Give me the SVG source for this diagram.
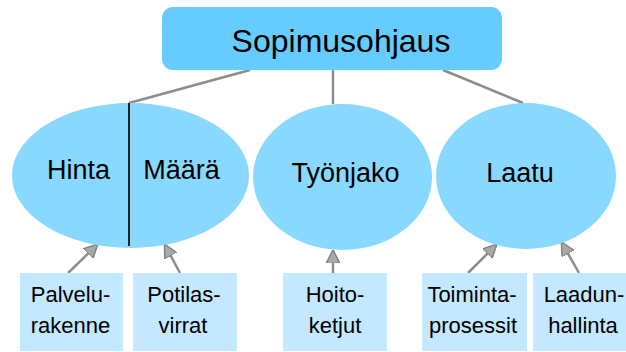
<svg xmlns="http://www.w3.org/2000/svg" width="626" height="352" viewBox="0 0 626 352">
<style>
text{font-family:"Liberation Sans",Arial,sans-serif;fill:#000;text-anchor:middle}
.ell{fill:#88D8FF}
.leaf{fill:#C4E8FF}
.con{stroke:#8C8C8C;stroke-width:2.5;fill:none}
.arr{stroke:#8C8C8C;stroke-width:2.5;fill:none;marker-end:url(#ah)}
.big{font-size:27px}
.small{font-size:22px}
</style>
<defs>
<marker id="ah" viewBox="0 0 10 10" refX="9" refY="5" markerWidth="5.5" markerHeight="5.5" orient="auto" markerUnits="strokeWidth">
<path d="M0,0 L10,5 L0,10 Z" fill="#A8A8A8" stroke="#808080" stroke-width="1"/>
</marker>
</defs>
<g id="connectors">
<line class="con" x1="250" y1="70" x2="129" y2="103"/>
<line class="con" x1="333" y1="70" x2="333" y2="104"/>
<line class="con" x1="443" y1="70" x2="523" y2="103"/>
<line class="arr" x1="68" y1="273" x2="97" y2="245"/>
<line class="arr" x1="180" y1="273" x2="165" y2="245"/>
<line class="arr" x1="333" y1="273" x2="333" y2="251"/>
<line class="arr" x1="468" y1="273" x2="496" y2="245"/>
<line class="arr" x1="579" y1="273" x2="562" y2="243"/>
</g>
<g id="sopimusohjaus">
<rect x="162" y="7" width="340" height="63" rx="11" fill="#66CCFF"/>
<text x="341" y="52" font-size="32">Sopimusohjaus</text>
</g>
<g id="hinta-maara">
<ellipse class="ell" cx="130.5" cy="175.5" rx="118.5" ry="72.5"/>
<line x1="129" y1="103" x2="129" y2="246" stroke="#222" stroke-width="2"/>
<text class="big" x="78.5" y="179">Hinta</text>
<text class="big" x="181.5" y="179">Määrä</text>
</g>
<g id="tyonjako">
<ellipse class="ell" cx="342.5" cy="177" rx="89.5" ry="73"/>
<text class="big" x="345.5" y="182">Työnjako</text>
</g>
<g id="laatu">
<ellipse class="ell" cx="526" cy="176" rx="90" ry="73"/>
<text class="big" x="520" y="182">Laatu</text>
</g>
<g id="palvelurakenne">
<rect class="leaf" x="20" y="273" width="103" height="78"/>
<text class="small" x="70.5" y="302">Palvelu-</text>
<text class="small" x="70.5" y="333">rakenne</text>
</g>
<g id="potilasvirrat">
<rect class="leaf" x="133" y="273" width="104" height="78"/>
<text class="small" x="184" y="302">Potilas-</text>
<text class="small" x="183" y="333">virrat</text>
</g>
<g id="hoitoketjut">
<rect class="leaf" x="283" y="273" width="104" height="78"/>
<text class="small" x="335" y="302">Hoito-</text>
<text class="small" x="335" y="333">ketjut</text>
</g>
<g id="toimintaprosessit">
<rect class="leaf" x="422" y="273" width="105" height="78"/>
<text class="small" x="472" y="302">Toiminta-</text>
<text class="small" x="473" y="333">prosessit</text>
</g>
<g id="laadunhallinta">
<rect class="leaf" x="533" y="273" width="93" height="78"/>
<text class="small" x="584" y="302">Laadun-</text>
<text class="small" x="583" y="333">hallinta</text>
</g>
</svg>
